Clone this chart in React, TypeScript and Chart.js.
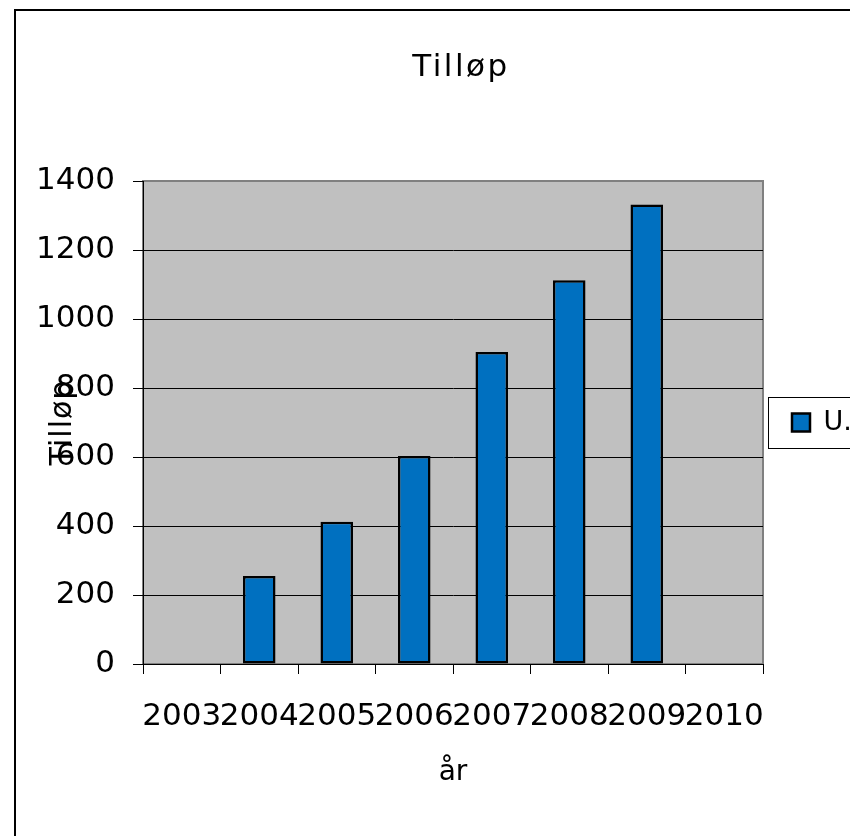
import { useEffect, useRef } from 'react';
import { Chart, registerables } from 'chart.js';

Chart.register(...registerables);

const categories = ['2003', '2004', '2005', '2006', '2007', '2008', '2009', '2010'];
const seriesName = 'U.';
const seriesValues: (number | null)[] = [null, 255, 412, 603, 904, 1112, 1332, null];
const yMin = 0;
const yMax = 1400;
const yStep = 200;
const chartTitle = 'Tilløp';
const yAxisTitle = 'Tilløp';
const xAxisTitle = 'år';

const FONT = '"DejaVu Sans", Verdana, sans-serif';
const CW = 900;
const CH = 860;

const decorPlugin = {
  id: 'decor',
  beforeLayout(chart: any) {
    const lg = chart.legend;
    if (lg && !lg.__patched) {
      const f = lg.fit;
      lg.fit = function () {
        f.call(this);
        if (!this.isHorizontal()) this.width = 100;
      };
      lg.__patched = true;
    }
    const tb = chart.titleBlock;
    if (tb && !tb.__patched) {
      const d = tb.draw;
      tb.draw = function (...args: any[]) {
        const c = this.ctx;
        c.save();
        c.letterSpacing = '2.5px';
        c.translate(8, 0);
        d.apply(this, args);
        c.restore();
      };
      tb.__patched = true;
    }
  },
  beforeDraw(chart: any) {
    const y = chart.scales.y;
    if (y && !y.__patched) {
      const d = y.drawTitle;
      y.drawTitle = function (...args: any[]) {
        const c = this.ctx;
        c.save();
        c.letterSpacing = '1px';
        d.apply(this, args);
        c.restore();
      };
      y.__patched = true;
    }
    const { ctx, chartArea: a } = chart;
    ctx.save();
    ctx.fillStyle = '#ffffff';
    ctx.fillRect(0, 0, chart.width, chart.height);
    ctx.strokeStyle = '#000000';
    ctx.lineWidth = 2;
    ctx.strokeRect(15, 10, chart.width, chart.height);
    ctx.fillStyle = '#C0C0C0';
    ctx.fillRect(a.left, a.top, a.right - a.left, a.bottom - a.top);
    ctx.strokeStyle = '#808080';
    ctx.lineWidth = 2;
    ctx.strokeRect(a.left, a.top, a.right - a.left, a.bottom - a.top);
    ctx.restore();
  },
  afterDraw(chart: any) {
    const lg = chart.legend;
    if (!lg || !lg.legendHitBoxes || !lg.legendHitBoxes.length) return;
    const hb = lg.legendHitBoxes[0];
    const cy = hb.top + hb.height / 2;
    const ctx = chart.ctx;
    ctx.save();
    ctx.strokeStyle = '#000000';
    ctx.lineWidth = 1;
    ctx.strokeRect(Math.round(lg.left + 5) + 0.5, Math.round(cy - 25.5) + 0.5, 200, 51);
    ctx.restore();
  },
};

export default function App() {
  const ref = useRef<HTMLCanvasElement | null>(null);

  useEffect(() => {
    document.body.style.margin = '0';
    const canvas = ref.current;
    if (!canvas) return;
    const chart = new Chart(canvas, {
      type: 'bar',
      data: {
        labels: categories,
        datasets: [
          {
            label: seriesName,
            data: seriesValues,
            backgroundColor: '#0070C0',
            borderColor: '#000000',
            borderWidth: 2.5,
            borderSkipped: false,
            barPercentage: 0.42,
            categoryPercentage: 1,
          },
        ],
      },
      options: {
        responsive: false,
        animation: false,
        devicePixelRatio: 1,
        layout: { padding: { left: 15, right: 37, top: 0, bottom: CH - 790 } },
        plugins: {
          tooltip: { enabled: false },
          title: {
            display: true,
            text: chartTitle,
            fullSize: false,
            color: '#000000',
            font: { family: FONT, size: 31, weight: 'normal' },
            padding: { top: 49.5, bottom: 94.3 },
          },
          legend: {
            display: true,
            position: 'right',
            fullSize: false,
            labels: {
              boxWidth: 18,
              boxHeight: 18,
              padding: 29,
              color: '#000000',
              font: { family: FONT, size: 27 },
            },
          },
        },
        scales: {
          x: {
            type: 'category',
            offset: true,
            grid: {
              offset: true,
              drawOnChartArea: false,
              drawTicks: true,
              tickLength: 10,
              tickColor: '#000000',
              color: '#000000',
            },
            border: { color: '#000000', width: 1 },
            ticks: {
              color: '#000000',
              font: { family: FONT, size: 31 },
              padding: 24,
              maxRotation: 0,
              minRotation: 0,
              autoSkip: false,
            },
            title: {
              display: true,
              text: xAxisTitle,
              color: '#000000',
              font: { family: FONT, size: 28 },
              padding: { top: 21, bottom: 0 },
            },
            afterFit(s: any) {
              s.height = 126;
            },
          },
          y: {
            min: yMin,
            max: yMax,
            ticks: {
              stepSize: yStep,
              color: '#000000',
              font: { family: FONT, size: 31 },
              padding: 18,
              callback: (v: any) => String(v),
            },
            grid: {
              color: (c: any) => (c.tick && c.tick.value === yMax ? 'rgba(0,0,0,0)' : '#000000'),
              tickColor: '#000000',
              tickLength: 10,
              lineWidth: 1,
            },
            border: { color: '#000000', width: 1 },
            title: {
              display: true,
              text: yAxisTitle,
              color: '#000000',
              font: { family: FONT, size: 30 },
              padding: { top: 30, bottom: 0 },
            },
            afterFit(s: any) {
              s.width = 128;
            },
          },
        },
      },
      plugins: [decorPlugin],
    } as any);
    return () => chart.destroy();
  }, []);

  return (
    <div
      style={{
        position: 'fixed',
        left: 0,
        top: 0,
        width: 850,
        height: 836,
        overflow: 'hidden',
        background: '#ffffff',
      }}
    >
      <canvas ref={ref} width={CW} height={CH} style={{ display: 'block', width: CW, height: CH }} />
    </div>
  );
}
